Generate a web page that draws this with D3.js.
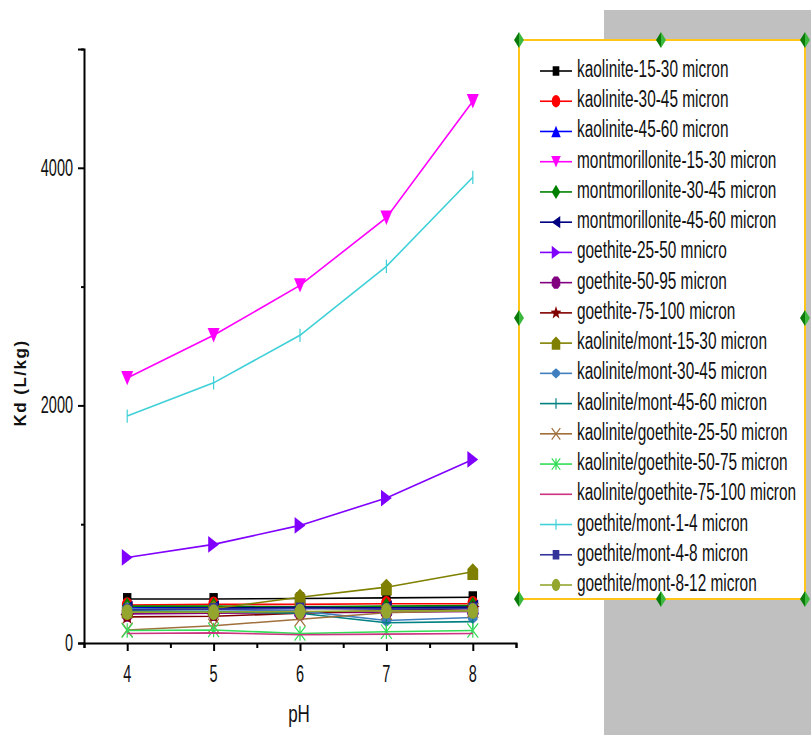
<!DOCTYPE html>
<html>
<head>
<meta charset="utf-8">
<script src="https://cdn.jsdelivr.net/npm/d3@7"></script>
<style>
  body { margin: 0; background: #fff; }
  svg { display: block; }
  text { font-family: "Liberation Sans", Arial, sans-serif; fill: #111; }
</style>
</head>
<body>
<div id="chart"></div>
<script>
// --- data ---
const phValues = [4, 5, 6, 7, 8];

const seriesNames = [
    "kaolinite-15-30 micron",
    "kaolinite-30-45 micron",
    "kaolinite-45-60 micron",
    "montmorillonite-15-30 micron",
    "montmorillonite-30-45 micron",
    "montmorillonite-45-60 micron",
    "goethite-25-50 mnicro",
    "goethite-50-95 micron",
    "goethite-75-100 micron",
    "kaolinite/mont-15-30 micron",
    "kaolinite/mont-30-45 micron",
    "kaolinite/mont-45-60 micron",
    "kaolinite/goethite-25-50 micron",
    "kaolinite/goethite-50-75 micron",
    "kaolinite/goethite-75-100 micron",
    "goethite/mont-1-4 micron",
    "goethite/mont-4-8 micron",
    "goethite/mont-8-12 micron"
];

// Kd (L/kg) at pH 4..8, one row per series
const kdValues = [
    [370, 370, 375, 380, 385],
    [320, 325, 325, 330, 330],
    [300, 295, 290, 300, 305],
    [2230, 2590, 3010, 3580, 4560],
    [310, 310, 305, 310, 315],
    [290, 295, 300, 295, 300],
    [720, 830, 990, 1220, 1545],
    [245, 250, 255, 260, 265],
    [220, 225, 250, 275, 290],
    [280, 290, 385, 470, 600],
    [290, 280, 270, 190, 215],
    [270, 265, 250, 170, 180],
    [110, 145, 200, 255, 275],
    [105, 110, 80, 95, 105],
    [80, 85, 70, 75, 80],
    [1910, 2190, 2590, 3170, 3920],
    [280, 285, 290, 285, 290],
    [260, 260, 265, 270, 270]
];

const xTicks = [4, 5, 6, 7, 8];
const yTicks = [0, 2000, 4000];

// --- styles ---
const seriesColors = [
    "#000000", "#ff0000", "#0000ff", "#ff00ff", "#008000", "#000080",
    "#8000ff", "#800080", "#800000", "#808000", "#3f7fbf", "#008080",
    "#a0703c", "#33dd55", "#cc3380", "#40d0d8", "#333399", "#94a62e"
];
const seriesShapes = [
    "square", "circle", "triUp", "triDown", "diamond", "triLeft",
    "triRight", "octagon", "star", "pentagon", "smallDiamond", "vbar",
    "cross", "asterisk", "none", "vbar", "square", "circle"
];

const margin = { left: 84, right: 516, top: 49, bottom: 643 };

const svg = d3.select("#chart").append("svg")
    .attr("width", 811)
    .attr("height", 735);

// gray panel behind legend
svg.append("rect")
    .attr("x", 604).attr("y", 10)
    .attr("width", 207).attr("height", 725)
    .attr("fill", "#c0c0c0");

const x = d3.scaleLinear().domain([3.5, 8.5]).range([margin.left, margin.right]);
const y = d3.scaleLinear().domain([0, 5000]).range([margin.bottom, margin.top]);

// stretched text helper (picture text is tall and narrow)
function stretchedText(g, tx, ty, str, size, sy, anchor) {
    return g.append("text")
        .attr("transform", `translate(${tx},${ty}) scale(1,${sy})`)
        .attr("text-anchor", anchor)
        .style("font-size", size + "px")
        .text(str);
}

// --- axes ---
const xAxis = svg.append("g")
    .attr("transform", `translate(0,${margin.bottom})`)
    .call(d3.axisBottom(x).tickValues(d3.range(3.5, 8.51, 0.5))
        .tickSize(5).tickFormat(""));
xAxis.select(".domain").attr("stroke", "#000").attr("stroke-width", 2);
xAxis.selectAll(".tick line")
    .attr("stroke", "#000").attr("stroke-width", 2)
    .attr("y2", d => Number.isInteger(d) ? 8 : 5);

const yAxis = svg.append("g")
    .attr("transform", `translate(${margin.left},0)`)
    .call(d3.axisLeft(y).tickValues([0, 1000, 2000, 3000, 4000, 5000])
        .tickSize(6).tickFormat(""));
yAxis.select(".domain").attr("stroke", "#000").attr("stroke-width", 2);
yAxis.selectAll(".tick line")
    .attr("stroke", "#000").attr("stroke-width", 2)
    .attr("x2", d => yTicks.includes(d) ? -6 : -3);

xTicks.forEach(t => stretchedText(svg, x(t), 682, t, 14.5, 1.6, "middle"));
yTicks.forEach(t => stretchedText(svg, 73, y(t) + 8, t, 14.5, 1.6, "end"));

stretchedText(svg, 299, 722, "pH", 17, 1.45, "middle");

svg.append("text")
    .attr("transform", "translate(26,383) rotate(-90)")
    .attr("text-anchor", "middle")
    .style("font-size", "17px")
    .style("font-weight", "bold")
    .style("letter-spacing", "1.5px")
    .text("Kd (L/kg)");

// --- markers ---
function ellipsePath(rx, ry) {
    return `M${-rx},0A${rx},${ry} 0 1,0 ${rx},0A${rx},${ry} 0 1,0 ${-rx},0Z`;
}

function markerPath(shape, k) {
    let w, h;
    switch (shape) {
        case "square":
            w = 7 * k; h = 10 * k;
            return `M${-w/2},${-h/2}H${w/2}V${h/2}H${-w/2}Z`;
        case "circle":
            return ellipsePath(4.5 * k, 6.5 * k);
        case "triUp":
            w = 10 * k; h = 12 * k;
            return `M0,${-h/2}L${w/2},${h/2}L${-w/2},${h/2}Z`;
        case "triDown":
            w = 10 * k; h = 12 * k;
            return `M0,${h/2}L${w/2},${-h/2}L${-w/2},${-h/2}Z`;
        case "diamond":
            w = 9 * k; h = 15 * k;
            return `M0,${-h/2}L${w/2},0L0,${h/2}L${-w/2},0Z`;
        case "triLeft":
            w = 9 * k; h = 13 * k;
            return `M${-w/2},0L${w/2},${-h/2}L${w/2},${h/2}Z`;
        case "triRight":
            w = 9 * k; h = 14 * k;
            return `M${w/2},0L${-w/2},${-h/2}L${-w/2},${h/2}Z`;
        case "octagon": {
            w = 4.5 * k; h = 6.5 * k;
            const a = w * 0.45, b = h * 0.45;
            return `M${-a},${-h}L${a},${-h}L${w},${-b}L${w},${b}L${a},${h}L${-a},${h}L${-w},${b}L${-w},${-b}Z`;
        }
        case "star": {
            const pts = [];
            for (let i = 0; i < 10; i++) {
                const r = (i % 2 === 0 ? 6 : 2.5) * k;
                const ang = -Math.PI / 2 + i * Math.PI / 5;
                pts.push([r * Math.cos(ang), r * Math.sin(ang) * 1.2]);
            }
            return "M" + pts.map(p => p.join(",")).join("L") + "Z";
        }
        case "pentagon":
            w = 9 * k; h = 14 * k;
            return `M0,${-h/2}L${w/2},${-h/6}L${w/2},${h/2}L${-w/2},${h/2}L${-w/2},${-h/6}Z`;
        case "smallDiamond":
            w = 8 * k; h = 11 * k;
            return `M0,${-h/2}L${w/2},${-h/6}L${w/2},${h/6}L0,${h/2}L${-w/2},${h/6}L${-w/2},${-h/6}Z`;
        case "vbar":
            h = 11 * k;
            return `M0,${-h/2}V${h/2}`;
        case "cross":
            w = 9 * k; h = 12 * k;
            return `M${-w/2},${-h/2}L${w/2},${h/2}M${w/2},${-h/2}L${-w/2},${h/2}`;
        case "asterisk":
            w = 9 * k; h = 12 * k;
            return `M${-w/2},${-h/2}L${w/2},${h/2}M${w/2},${-h/2}L${-w/2},${h/2}M0,${-h/2}V${h/2}`;
        default:
            return "";
    }
}

const strokeOnly = ["vbar", "cross", "asterisk"];

function drawMarker(g, shape, color, cx, cy, k) {
    const p = g.append("path")
        .attr("d", markerPath(shape, k))
        .attr("transform", `translate(${cx},${cy})`);
    if (strokeOnly.includes(shape)) {
        p.attr("fill", "none").attr("stroke", color).attr("stroke-width", 1.2);
    } else {
        p.attr("fill", color);
    }
}

// --- series lines ---
const line = d3.line()
    .x((d, i) => x(phValues[i]))
    .y(d => y(d));

const plot = svg.append("g");
kdValues.forEach((vals, si) => {
    const g = plot.append("g");
    g.append("path")
        .datum(vals)
        .attr("d", line)
        .attr("fill", "none")
        .attr("stroke", seriesColors[si])
        .attr("stroke-width", 1.6);
    vals.forEach((v, i) => {
        drawMarker(g, seriesShapes[si], seriesColors[si], x(phValues[i]), y(v), 1.2);
    });
});

// --- legend ---
const legend = svg.append("g");
legend.append("rect")
    .attr("x", 519).attr("y", 40)
    .attr("width", 286).attr("height", 559)
    .attr("fill", "#fff")
    .attr("stroke", "#ffc519")
    .attr("stroke-width", 2);

const legendY = d3.scaleLinear().domain([0, seriesNames.length - 1]).range([71, 585]);

seriesNames.forEach((name, i) => {
    const ly = legendY(i);
    legend.append("line")
        .attr("x1", 540).attr("x2", 572)
        .attr("y1", ly).attr("y2", ly)
        .attr("stroke", seriesColors[i])
        .attr("stroke-width", 1.6);
    drawMarker(legend, seriesShapes[i], seriesColors[i], 556, ly, 0.95);
    stretchedText(legend, 577, ly + 6, name, 15.4, 1.5, "start");
});

// selection handles round the legend box
const handles = [[519, 40], [661, 40], [805, 40], [519, 318], [805, 318],
                 [519, 599], [661, 599], [805, 599]];
handles.forEach(([hx, hy]) => {
    legend.append("path")
        .attr("d", `M${hx},${hy - 8}L${hx - 5},${hy}L${hx},${hy + 8}Z`)
        .attr("fill", "#0a7a0a");
    legend.append("path")
        .attr("d", `M${hx},${hy - 8}L${hx + 5},${hy}L${hx},${hy + 8}Z`)
        .attr("fill", "#3cb83c");
});
</script>
</body>
</html>
